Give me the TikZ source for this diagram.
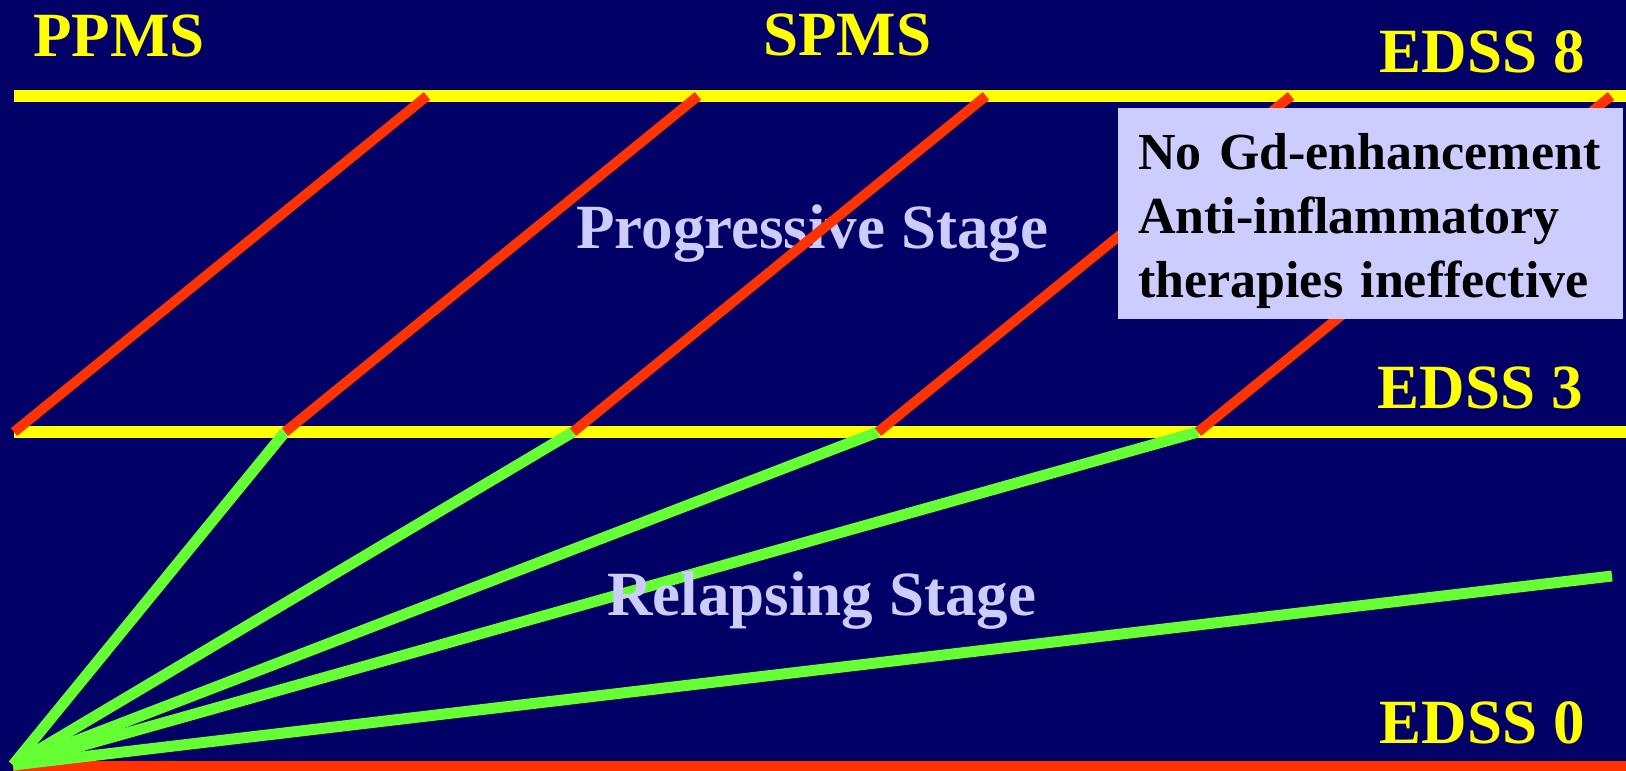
\documentclass[tikz,border=0pt]{standalone}
\usepackage{fontspec}
\setmainfont{Liberation Serif}
\usetikzlibrary{positioning}
\definecolor{bgNavy}{HTML}{000066}
\definecolor{edssYellow}{HTML}{FFFF00}
\definecolor{progRed}{HTML}{FF3300}
\definecolor{relGreen}{HTML}{66FF33}
\definecolor{stageLav}{HTML}{CCCCFF}

\begin{document}
\begin{tikzpicture}[x=1pt,y=-1pt,edss/.style={line width=12pt, color=edssYellow},prog/.style={line width=10pt, color=progRed},rel/.style={line width=11pt, color=relGreen},lbl/.style={inner sep=0pt, font=\fontsize{63}{63}\selectfont\bfseries, text=edssYellow},stage/.style={anchor=base west, inner sep=0pt, font=\fontsize{63}{63}\selectfont\bfseries, text=stageLav},note/.style={fill=stageLav, text=black, font=\fontsize{52}{64}\selectfont\bfseries, text width=465pt, inner xsep=20pt, inner ysep=0pt, minimum width=505pt, align=left, text height=61pt, text depth=150pt}]
\fill[bgNavy] (0,0) rectangle (1626,771);
\useasboundingbox (0,0) rectangle (1626,771);
% EDSS levels
\coordinate (e8l) at (14,96); \coordinate (e8r) at (1626,96);
\coordinate (e3l) at (14,432); \coordinate (e3r) at (1626,432);
\coordinate (e0l) at (13,766); \coordinate (e0r) at (1626,766);
\coordinate (o) at (13,765);
\foreach \x [count=\i from 0] in {14,285,573,878,1198} {\coordinate (b\i) at (\x,432); \coordinate (t\i) at (\x+413,96);}
\coordinate (g5) at (1612,576);
\draw[edss] (e8l)--(e8r); \draw[edss] (e3l)--(e3r); \draw[prog] (e0l)--(e0r);
% relapsing and progressive courses
\foreach \i in {1,...,4} \draw[rel] (o)--(b\i);
\draw[rel] (o)--(g5);
\node[stage] (prg) at (576,248) {Progressive Stage};
\foreach \i in {0,...,4} \draw[prog] (b\i)--(t\i);
\node[stage] (rls) at (607,615) {Relapsing Stage};
\node[lbl, anchor=base west] (ppms) at (33,56) {PPMS};
\node[lbl, anchor=base west] (spms) at (763,55) {SPMS};
\node[lbl, anchor=base east] (ed8) at (1585,72) {EDSS 8};
\node[lbl, anchor=base east] (ed3) at (1583,408) {EDSS 3};
\node[lbl, anchor=base east] (ed0) at (1585,743) {EDSS 0};
\node[note, anchor=north west] (gd) at (1118,108) {No Gd-enhancement\\Anti-inflammatory\\therapies ineffective};
\end{tikzpicture}
\end{document}
